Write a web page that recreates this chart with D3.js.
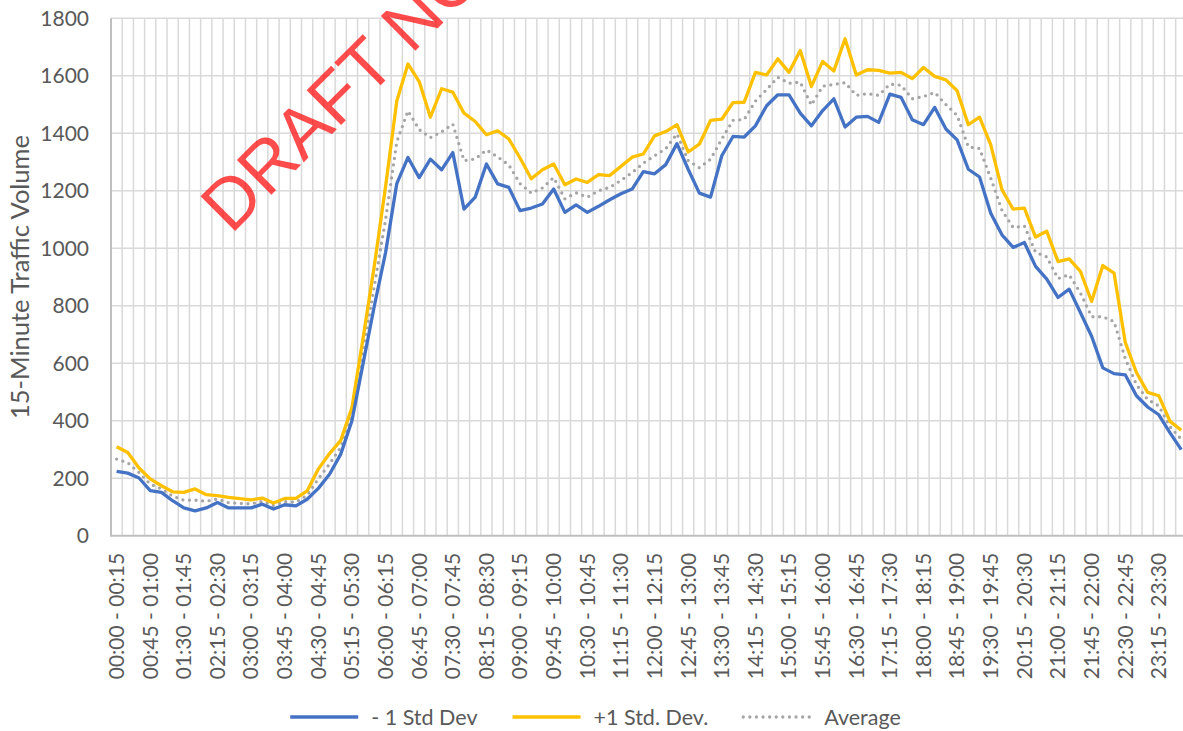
<!DOCTYPE html>
<html>
<head>
<meta charset="utf-8">
<script src="https://cdn.jsdelivr.net/npm/d3@7"></script>
<style>
  body { margin: 0; background: #ffffff; }
  svg { display: block; font-family: Lato, "Open Sans", sans-serif; }
</style>
</head>
<body>
<svg id="chart" width="1183" height="731"></svg>
<script>
// 15-minute interval labels for one day
const pad = n => String(n).padStart(2, "0");
const categories = [];
for (let m = 0; m < 24 * 60; m += 15) {
  const e = (m + 15) % (24 * 60);
  categories.push(`${pad(Math.floor(m / 60))}:${pad(m % 60)} - ${pad(Math.floor(e / 60))}:${pad(e % 60)}`);
}

// Traffic volume per interval
const minusStd = [
  224, 218, 201, 157, 151, 122, 97, 87, 97, 116, 97, 97,
  97, 110, 93, 108, 104, 127, 165, 214, 284, 400, 600, 800,
  985, 1225, 1316, 1246, 1310, 1273, 1333, 1136, 1178, 1293, 1224, 1212,
  1131, 1140, 1154, 1206, 1125, 1151, 1125, 1146, 1169, 1190, 1206, 1267,
  1259, 1291, 1364, 1275, 1192, 1178, 1322, 1389, 1387, 1426, 1496, 1534,
  1534, 1470, 1426, 1479, 1520, 1422, 1456, 1459, 1438, 1536, 1525, 1447,
  1430, 1490, 1415, 1377, 1275, 1248, 1122, 1047, 1003, 1020, 937, 893,
  829, 858, 777, 694, 584, 564, 560, 487, 448, 421, 358, 300
];
const plusStd = [
  310, 290, 236, 198, 174, 153, 151, 163, 143, 140, 134, 129,
  125, 131, 114, 130, 130, 156, 232, 286, 332, 446, 690, 940,
  1215, 1512, 1641, 1580, 1456, 1555, 1543, 1470, 1441, 1395, 1409, 1380,
  1314, 1242, 1273, 1293, 1221, 1241, 1229, 1256, 1253, 1285, 1317, 1328,
  1391, 1406, 1430, 1335, 1362, 1445, 1449, 1507, 1508, 1612, 1603, 1659,
  1612, 1688, 1563, 1650, 1617, 1729, 1603, 1621, 1619, 1609, 1612, 1590,
  1629, 1598, 1586, 1548, 1430, 1456, 1360, 1204, 1136, 1140, 1039, 1059,
  954, 963, 920, 815, 940, 914, 673, 568, 499, 487, 398, 367
];
const average = [
  267, 254, 220, 180, 163, 138, 124, 124, 120, 128, 115, 113,
  111, 120, 105, 119, 117, 141, 198, 250, 308, 423, 645, 870,
  1100, 1370, 1478, 1413, 1385, 1405, 1432, 1305, 1311, 1342, 1318, 1290,
  1225, 1192, 1210, 1246, 1172, 1193, 1178, 1200, 1212, 1236, 1263, 1296,
  1322, 1346, 1398, 1305, 1280, 1310, 1380, 1445, 1448, 1512, 1552, 1595,
  1574, 1578, 1498, 1564, 1570, 1576, 1532, 1538, 1532, 1571, 1567, 1520,
  1528, 1542, 1500, 1462, 1353, 1347, 1244, 1132, 1072, 1078, 986, 970,
  895, 908, 845, 762, 762, 745, 617, 526, 474, 452, 379, 336
];

const yTicks = [0, 200, 400, 600, 800, 1000, 1200, 1400, 1600, 1800];
const xTickLabels = categories.filter((c, i) => i % 3 === 0);

const series = [
  { name: "- 1 Std Dev", values: minusStd, color: "#4472C4", dash: null },
  { name: "+1 Std. Dev.", values: plusStd, color: "#FFC000", dash: null },
  { name: "Average", values: average, color: "#A5A5A5", dash: "0 6.6" }
];

const svg = d3.select("#chart");
const plotLeft = 111, plotTop = 18.3, plotBottom = 535.8, band = 11.207;
const textColor = "#595959";
const tickFont = "21px";

const x = d3.scaleBand().domain(categories).range([plotLeft, plotLeft + band * categories.length]).padding(0);
const y = d3.scaleLinear().domain([0, 1800]).range([plotBottom, plotTop]);

// horizontal gridlines
svg.append("g").selectAll("line").data(yTicks.filter(v => v > 0)).join("line")
  .attr("x1", plotLeft).attr("x2", x.range()[1])
  .attr("y1", d => y(d)).attr("y2", d => y(d))
  .attr("stroke", "#D9D9D9").attr("stroke-width", 1.5);

// vertical gridlines at category boundaries
svg.append("g").selectAll("line").data(d3.range(1, categories.length + 1)).join("line")
  .attr("x1", i => plotLeft + i * x.bandwidth()).attr("x2", i => plotLeft + i * x.bandwidth())
  .attr("y1", plotTop).attr("y2", plotBottom)
  .attr("stroke", "#D9D9D9").attr("stroke-width", 1.5);

// axis lines
svg.append("line").attr("x1", plotLeft).attr("x2", plotLeft).attr("y1", plotTop).attr("y2", plotBottom)
  .attr("stroke", "#BFBFBF").attr("stroke-width", 2);
svg.append("line").attr("x1", plotLeft - 1).attr("x2", x.range()[1]).attr("y1", plotBottom).attr("y2", plotBottom)
  .attr("stroke", "#BFBFBF").attr("stroke-width", 2);

// y axis labels
const yAxis = svg.append("g").attr("transform", `translate(${plotLeft - 22},0)`)
  .call(d3.axisLeft(y).tickValues(yTicks).tickFormat(d3.format("d")).tickSize(0).tickPadding(0));
yAxis.select(".domain").remove();
yAxis.selectAll("text").attr("fill", textColor).style("font-size", tickFont).style("font-family", "Lato, 'Open Sans', sans-serif");

// x axis labels (every third interval), rotated
const xAxis = svg.append("g").attr("transform", `translate(0,${plotBottom})`)
  .call(d3.axisBottom(x).tickValues(xTickLabels).tickSize(0).tickPadding(0));
xAxis.select(".domain").remove();
xAxis.selectAll("text")
  .attr("fill", textColor).style("font-size", tickFont).style("font-family", "Lato, 'Open Sans', sans-serif")
  .attr("text-anchor", "end")
  .attr("transform", "rotate(-90)")
  .attr("x", -17).attr("y", 0).attr("dy", "0.35em");

// y axis title
svg.append("text")
  .attr("transform", `translate(29,${(plotTop + plotBottom) / 2}) rotate(-90)`)
  .attr("text-anchor", "middle")
  .attr("fill", textColor).style("font-size", "25.5px")
  .text("15-Minute Traffic Volume");

// series lines
const line = d3.line()
  .x((d, i) => x(categories[i]) + x.bandwidth() / 2)
  .y(d => y(d));

const plot = svg.append("g");
series.slice().reverse().forEach(s => {
  plot.append("path")
    .datum(s.values)
    .attr("d", line)
    .attr("fill", "none")
    .attr("stroke", s.color)
    .attr("stroke-width", 3.3)
    .attr("stroke-linejoin", "round")
    .attr("stroke-linecap", s.dash ? "round" : "butt")
    .attr("stroke-dasharray", s.dash);
});

// watermark
svg.append("text")
  .attr("transform", "translate(231,235) rotate(-45)")
  .attr("fill", "#FF0000").attr("fill-opacity", 0.7)
  .style("font-family", "'Liberation Sans', Arial, sans-serif")
  .style("font-size", "71px")
  .text("DRAFT NOT FOR DISTRIBUTION");

// legend
const legend = svg.append("g");
const legendY = 717, sampleLen = 68, gap = 13, spacing = 35;
let cursor = 0;
series.forEach(s => {
  const g = legend.append("g");
  g.append("line").attr("x1", 0).attr("x2", sampleLen).attr("y1", 0).attr("y2", 0)
    .attr("stroke", s.color).attr("stroke-width", 3.3)
    .attr("stroke-linecap", s.dash ? "round" : "butt")
    .attr("stroke-dasharray", s.dash);
  const t = g.append("text").attr("x", sampleLen + gap).attr("dy", "0.35em")
    .attr("fill", textColor).style("font-size", "21.5px").text(s.name);
  const w = sampleLen + gap + t.node().getComputedTextLength();
  g.attr("transform", `translate(${cursor},0)`);
  cursor += w + spacing;
});
const legendWidth = cursor - spacing;
legend.attr("transform", `translate(${595.5 - legendWidth / 2},${legendY})`);
</script>
</body>
</html>
